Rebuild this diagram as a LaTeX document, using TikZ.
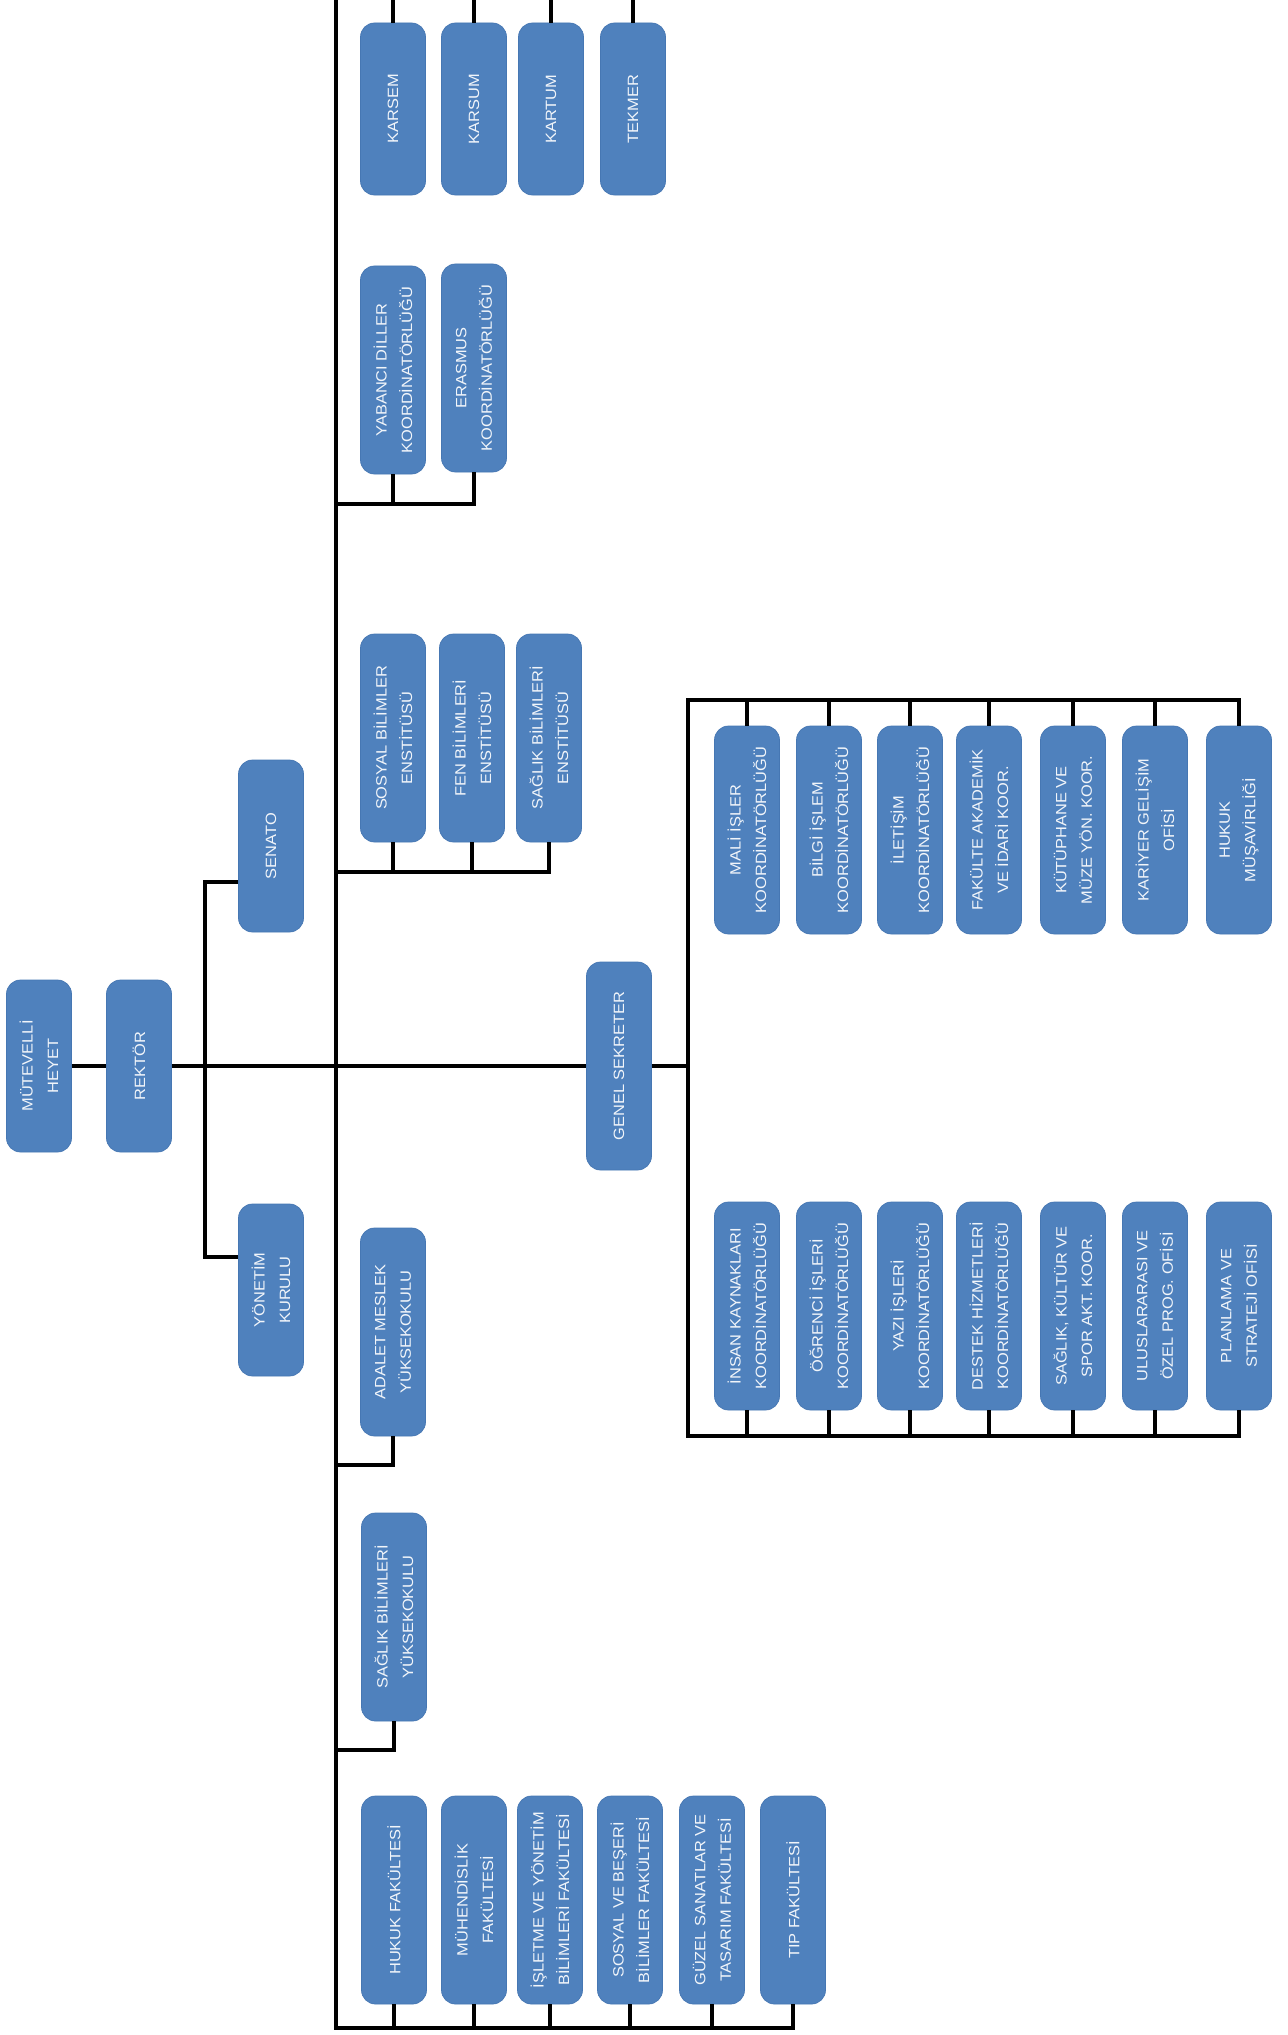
\documentclass[tikz,border=0pt]{standalone}
\usepackage{fontspec}
\setsansfont[FakeStretch=1.1]{Liberation Sans}
\usepackage{tikz}
\definecolor{boxblue}{HTML}{4F81BD}
\definecolor{boxline}{HTML}{4677B3}

\begin{document}
\begin{tikzpicture}[x=0.2mm,y=-0.2mm,
  unit/.style={rectangle,rounded corners=2.8mm,fill=boxblue,draw=boxline,
    text=white!92!boxblue,rotate=90,align=center,inner sep=2pt,minimum height=13mm,
    font=\sffamily\fontsize{8.5}{14.5}\selectfont},
  longbox/.style={unit,minimum width=41.6mm},
  shortbox/.style={unit,minimum width=34.4mm},
  link/.style={line width=0.7mm}]
\path[fill=white,use as bounding box] (0,0) rectangle (1288,2035);

% yonetim
\node[shortbox] (mutevelli) at (39,1066) {MÜTEVELLİ\\HEYET};
\node[shortbox] (rektor) at (139,1066) {REKTÖR};
\node[shortbox] (senato) at (271,846) {SENATO};
\node[shortbox] (yonetim) at (271,1290) {YÖNETİM\\KURULU};
\node[longbox] (gensek) at (619,1066) {GENEL SEKRETER};

% merkezler
\node[shortbox] (karsem) at (393,109) {KARSEM};
\node[shortbox] (karsum) at (474,109) {KARSUM};
\node[shortbox] (kartum) at (551,109) {KARTUM};
\node[shortbox] (tekmer) at (633,109) {TEKMER};

% koordinatorlukler
\node[longbox] (yabanci) at (393,370) {YABANCI DİLLER\\KOORDİNATÖRLÜĞÜ};
\node[longbox] (erasmus) at (474,368) {ERASMUS\\KOORDİNATÖRLÜĞÜ};

% enstituler
\node[longbox] (sbe) at (393,738) {SOSYAL BİLİMLER\\ENSTİTÜSÜ};
\node[longbox] (fbe) at (472,738) {FEN BİLİMLERİ\\ENSTİTÜSÜ};
\node[longbox] (sabe) at (549,738) {SAĞLIK BİLİMLERİ\\ENSTİTÜSÜ};

% yuksekokullar
\node[longbox] (adalet) at (393,1332) {ADALET MESLEK\\YÜKSEKOKULU};
\node[longbox] (shyo) at (394,1617) {SAĞLIK BİLİMLERİ\\YÜKSEKOKULU};

% fakulteler
\node[longbox] (hukuk) at (394,1900) {HUKUK FAKÜLTESİ};
\node[longbox] (muh) at (474,1900) {MÜHENDİSLİK\\FAKÜLTESİ};
\node[longbox] (iybf) at (550,1900) {İŞLETME VE YÖNETİM\\BİLİMLERİ FAKÜLTESİ};
\node[longbox] (sbbf) at (630,1900) {SOSYAL VE BEŞERİ\\BİLİMLER FAKÜLTESİ};
\node[longbox] (gstf) at (712,1900) {GÜZEL SANATLAR VE\\TASARIM FAKÜLTESİ};
\node[longbox] (tip) at (793,1900) {TIP FAKÜLTESİ};

% genel sekreterlik
\node[longbox] (mali) at (747,830) {MALİ İŞLER\\KOORDİNATÖRLÜĞÜ};
\node[longbox] (bilgi) at (829,830) {BİLGİ İŞLEM\\KOORDİNATÖRLÜĞÜ};
\node[longbox] (iletisim) at (910,830) {İLETİŞİM\\KOORDİNATÖRLÜĞÜ};
\node[longbox] (fakulte) at (989,830) {FAKÜLTE AKADEMİK\\VE İDARİ KOOR.};
\node[longbox] (kutup) at (1073,830) {KÜTÜPHANE VE\\MÜZE YÖN. KOOR.};
\node[longbox] (kariyer) at (1155,830) {KARİYER GELİŞİM\\OFİSİ};
\node[longbox] (musav) at (1239,830) {HUKUK\\MÜŞAVİRLİĞİ};

\node[longbox] (insan) at (747,1306) {İNSAN KAYNAKLARI\\KOORDİNATÖRLÜĞÜ};
\node[longbox] (ogrenci) at (829,1306) {ÖĞRENCİ İŞLERİ\\KOORDİNATÖRLÜĞÜ};
\node[longbox] (yazi) at (910,1306) {YAZI İŞLERİ\\KOORDİNATÖRLÜĞÜ};
\node[longbox] (destek) at (989,1306) {DESTEK HİZMETLERİ\\KOORDİNATÖRLÜĞÜ};
\node[longbox] (skspor) at (1073,1306) {SAĞLIK, KÜLTÜR VE\\SPOR AKT. KOOR.};
\node[longbox] (ulus) at (1155,1306) {ULUSLARARASI VE\\ÖZEL PROG. OFİSİ};
\node[longbox] (planlama) at (1239,1306) {PLANLAMA VE\\STRATEJİ OFİSİ};

% baglantilar
\coordinate (kurul) at (205,1066);
\coordinate (mainTop) at (336,0);
\coordinate (mainBot) at (336,2028);
\coordinate (dilbar) at (336,504);
\coordinate (enstbar) at (336,872);
\coordinate (myobar) at (336,1465);
\coordinate (yobar) at (336,1750);
\coordinate (gsuc) at (688,1066);
\coordinate (gsust) at (688,700);
\coordinate (gsalt) at (688,1436);

\draw[link] (mutevelli) -- (rektor);
\draw[link] (rektor) -- (gensek);
\draw[link] (senato.north |- 0,882) -| (kurul) |- (yonetim.north |- 0,1257);
\draw[link] (mainTop) -- (mainBot) -| (tip);

\draw[link] (karsem) -- (karsem |- mainTop);
\draw[link] (karsum) -- (karsum |- mainTop);
\draw[link] (kartum) -- (kartum |- mainTop);
\draw[link] (tekmer) -- (tekmer |- mainTop);

\draw[link] (dilbar) -| (erasmus);
\draw[link] (yabanci) -- (yabanci |- dilbar);

\draw[link] (enstbar) -| (sabe);
\draw[link] (sbe) -- (sbe |- enstbar);
\draw[link] (fbe) -- (fbe |- enstbar);

\draw[link] (myobar) -| (adalet);
\draw[link] (yobar) -| (shyo);

\draw[link] (hukuk) -- (hukuk |- mainBot);
\draw[link] (muh) -- (muh |- mainBot);
\draw[link] (iybf) -- (iybf |- mainBot);
\draw[link] (sbbf) -- (sbbf |- mainBot);
\draw[link] (gstf) -- (gstf |- mainBot);

\draw[link] (gensek) -- (gsuc);
\draw[link] (musav) |- (gsust) -- (gsalt) -| (planlama);
\draw[link] (mali) -- (mali |- gsust);
\draw[link] (bilgi) -- (bilgi |- gsust);
\draw[link] (iletisim) -- (iletisim |- gsust);
\draw[link] (fakulte) -- (fakulte |- gsust);
\draw[link] (kutup) -- (kutup |- gsust);
\draw[link] (kariyer) -- (kariyer |- gsust);
\draw[link] (insan) -- (insan |- gsalt);
\draw[link] (ogrenci) -- (ogrenci |- gsalt);
\draw[link] (yazi) -- (yazi |- gsalt);
\draw[link] (destek) -- (destek |- gsalt);
\draw[link] (skspor) -- (skspor |- gsalt);
\draw[link] (ulus) -- (ulus |- gsalt);
\end{tikzpicture}
\end{document}
